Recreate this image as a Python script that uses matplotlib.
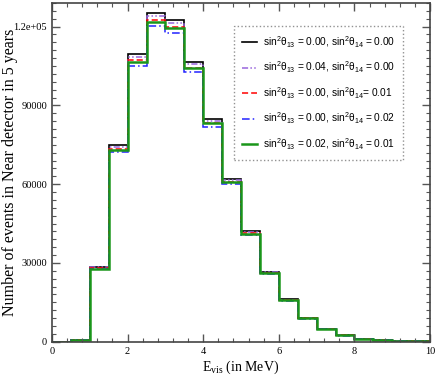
import matplotlib
matplotlib.use('Agg')
import matplotlib.pyplot as plt
from matplotlib.ticker import MultipleLocator, FuncFormatter
import numpy as np

# bin edges in visible energy (MeV)
edges = np.arange(0, 10.5, 0.5)

# events per bin for each (sin^2 theta13, sin^2 theta14) combination
ev_00_00 = [50, 680, 28600, 74800, 109400, 125100, 122500, 106600, 84900, 62000,
            42250, 26700, 16100, 9050, 4850, 2450, 1200, 570, 250, 100]
ev_04_00 = [50, 675, 28400, 74200, 108300, 124000, 121300, 105600, 84100, 61500,
            41900, 26500, 16000, 9000, 4820, 2430, 1190, 565, 248, 99]
ev_00_01 = [49, 667, 28000, 73300, 107100, 122500, 120000, 104400, 83200, 60800,
            41400, 26200, 15800, 8870, 4750, 2400, 1180, 560, 245, 98]
ev_00_02 = [48, 653, 27500, 72100, 105000, 120200, 117600, 102700, 81700, 59900,
            40700, 25900, 15500, 8700, 4660, 2350, 1150, 550, 240, 96]
ev_02_01 = [49, 663, 27750, 72900, 106600, 121900, 119400, 104400, 83200, 60800,
            41100, 26300, 15800, 8850, 4730, 2390, 1170, 555, 244, 98]

labels = ['0.00, sin$\\mathregular{^2}$θ$\\mathregular{_{14}}$ = 0.00',
          '0.04, sin$\\mathregular{^2}$θ$\\mathregular{_{14}}$ = 0.00',
          '0.00, sin$\\mathregular{^2}$θ$\\mathregular{_{14}}$= 0.01',
          '0.00, sin$\\mathregular{^2}$θ$\\mathregular{_{14}}$ = 0.02',
          '0.02, sin$\\mathregular{^2}$θ$\\mathregular{_{14}}$ = 0.01']
labels = ['sin$\\mathregular{^2}$θ$\\mathregular{_{13}}$ = ' + l for l in labels]

serif = ['Liberation Serif', 'DejaVu Serif']
sans = ['Liberation Sans', 'DejaVu Sans']

fig = plt.figure(figsize=(4.36, 3.82), dpi=100)
ax = fig.add_axes([0.1193, 0.1055, 0.867, 0.8867])

ax.stairs(ev_00_00, edges, color='black', lw=1.2, label=labels[0])
ax.stairs(ev_04_00, edges, color='#9966dd', lw=1.1,
          ls=(0, (4, 1.5, 1, 1.5, 1, 1.5)), label=labels[1])
ax.stairs(ev_00_01, edges, color='red', lw=1.1, ls=(0, (4, 2)), label=labels[2])
ax.stairs(ev_00_02, edges, color='#2222ff', lw=1.1,
          ls=(0, (5, 2, 1, 2)), label=labels[3])
ax.stairs(ev_02_01, edges, color='#1a961a', lw=1.8, label=labels[4])

ax.set_xlim(0, 10)
ax.set_ylim(0, 129000)

ax.xaxis.set_major_locator(MultipleLocator(2))
ax.xaxis.set_minor_locator(MultipleLocator(0.4))
ax.yaxis.set_major_locator(MultipleLocator(30000))
ax.yaxis.set_minor_locator(MultipleLocator(3000))


def fmt_y(v, pos):
    if v >= 100000:
        return '%.1e' % v
    return '%d' % v


ax.yaxis.set_major_formatter(FuncFormatter(fmt_y))
ax.tick_params(which='both', direction='in', top=True, right=True, color='#555555')
ax.tick_params(which='major', length=6, width=1, labelsize=7.5, pad=3.5)
ax.tick_params(which='minor', length=3, width=0.8)
for lab in ax.get_xticklabels() + ax.get_yticklabels():
    lab.set_family(serif)
for s in ax.spines.values():
    s.set_color('#444444')
    s.set_linewidth(1.2)

ax.set_xlabel('E$\\mathregular{_{vis}}$ (in MeV)', family=serif, fontsize=10, labelpad=2)
ax.set_ylabel('Number of events in Near detector in 5 years', family=serif,
              fontsize=11.5, va='center')
ax.yaxis.set_label_coords(-0.11, 0.5)

leg = ax.legend(loc='upper right', bbox_to_anchor=(0.929, 0.932), fancybox=False,
                prop={'family': sans, 'size': 7.3}, handlelength=1.5,
                handletextpad=0.6, labelspacing=1.0, borderpad=0.8,
                borderaxespad=0)
leg.get_frame().set_edgecolor('#777777')
leg.get_frame().set_linestyle(':')
leg.get_frame().set_linewidth(1.0)

fig.savefig('out.png', dpi=100)
